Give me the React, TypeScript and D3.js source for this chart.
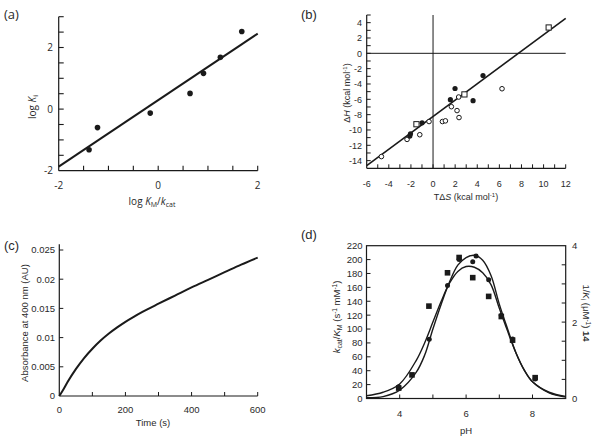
import React from 'react';
import * as d3 from 'd3';

// ---------- Panel (a) ----------
const aLogKm = [-1.39, -1.22, -0.16, 0.64, 0.91, 1.25, 1.68];
const aLogKi = [-1.32, -0.6, -0.13, 0.51, 1.16, 1.68, 2.52];
const aFitX = [-2, 2];
const aFitY = [-1.87, 2.45];
const aXLabels = [-2, 0, 2];
const aYLabels = [-2, 0, 2];

// ---------- Panel (b) ----------
const bFilledTdS = [4.52, 1.99, 1.57, 3.62, -0.99, -2.04, -2.1];
const bFilledDH = [-2.9, -4.59, -6.05, -6.18, -9.07, -10.5, -10.8];
const bOpenTdS = [6.24, 2.32, 1.66, 2.17, 2.35, 0.85, 1.12, -0.36, -1.2, -2.35, -4.67];
const bOpenDH = [-4.62, -5.7, -6.96, -7.47, -8.38, -8.9, -8.81, -8.9, -10.62, -11.23, -13.47];
const bSquareTdS = [10.46, 2.84, -1.5];
const bSquareDH = [3.37, -5.36, -9.25];
const bFitX = [-6, 12];
const bFitY = [-14.65, 4.56];
const bXLabels = [-6, -4, -2, 0, 2, 4, 6, 8, 10, 12];
const bYLabels = [-14, -12, -10, -8, -6, -4, -2, 0, 2, 4];

// ---------- Panel (c) ----------
const cTime = [0, 10, 25, 50, 75, 100, 125, 150, 175, 200, 225, 250, 300, 350, 400, 450, 500, 550, 600];
const cAbs = [0, 0.0009, 0.0024, 0.0046, 0.0065, 0.0081, 0.0095, 0.0107, 0.01175, 0.0127, 0.01355, 0.01435, 0.0158, 0.0172, 0.0186, 0.0199, 0.0212, 0.0225, 0.0237];
const cXLabels = [0, 200, 400, 600];
const cYLabels = [0, 0.005, 0.01, 0.015, 0.02, 0.025];
const cYLabelText = ['0', '0.005', '0.01', '0.015', '0.02', '0.025'];

// ---------- Panel (d) ----------
const dSquarePH = [3.97, 4.37, 4.88, 5.44, 5.79, 6.2, 6.68, 7.06, 7.4, 8.08];
const dSquareKcat = [15, 34, 133, 181, 203, 174, 147, 118, 84, 30];
const dCirclePH = [3.97, 4.89, 5.44, 5.79, 6.2, 6.3, 6.68, 7.06, 7.4, 8.08];
const dCircleKi = [0.31, 1.55, 2.96, 3.64, 3.58, 3.73, 3.11, 2.18, 1.56, 0.51];
const dCurvePH = [3, 3.5, 4, 4.5, 4.75, 5, 5.25, 5.5, 5.75, 6, 6.25, 6.5, 6.75, 7, 7.25, 7.5, 7.75, 8, 8.5, 9];
const dCurveKcat = [4, 9, 21, 55, 80, 110, 140, 166, 183, 190, 189, 181, 164, 130, 97, 66, 41, 24, 9, 3];
const dCurveKi = [0.02, 0.05, 0.22, 0.69, 1.13, 1.82, 2.47, 3.05, 3.49, 3.69, 3.75, 3.62, 3.22, 2.47, 1.82, 1.2, 0.75, 0.44, 0.15, 0.04];
const dXLabels = [4, 6, 8];
const dLeftLabels = [0, 20, 40, 60, 80, 100, 120, 140, 160, 180, 200, 220];
const dRightLabels = [0, 2, 4];

const INK = '#1a1a1a';
const TXT = '#2a2a2a';
const ARIAL = '"Liberation Sans", Arial, sans-serif';
const OPEN = '"Open Sans", "Liberation Sans", sans-serif';

function range(a: number, b: number, s: number) {
  const out: number[] = [];
  for (let v = a; v <= b + 1e-9; v += s) out.push(+v.toFixed(6));
  return out;
}

function PanelA() {
  const x = d3.scaleLinear().domain([-2, 2]).range([58.7, 257.7]);
  const y = d3.scaleLinear().domain([-2, 3]).range([170.7, 16.7]);
  const line = d3.line<number>().x((d, i) => x(aFitX[i])).y((d, i) => y(aFitY[i]));
  return (
    <g fontFamily={OPEN} fill={TXT}>
      <text x={4} y={19} fontSize={13}>(a)</text>
      <line x1={x(-2)} x2={x(2)} y1={y(-2)} y2={y(-2)} stroke={INK} strokeWidth={1.2} />
      <line x1={x(-2)} x2={x(-2)} y1={y(-2)} y2={y(3)} stroke={INK} strokeWidth={1.2} />
      {range(-1.5, 2, 0.5).map(v => (
        <line key={'ax' + v} x1={x(v)} x2={x(v)} y1={y(-2)} y2={y(-2) - 5} stroke={INK} strokeWidth={1.1} />
      ))}
      {range(-1.5, 3, 0.5).map(v => (
        <line key={'ay' + v} x1={x(-2)} x2={x(-2) + 5} y1={y(v)} y2={y(v)} stroke={INK} strokeWidth={1.1} />
      ))}
      {aXLabels.map(v => (
        <text key={'axl' + v} x={x(v)} y={189} fontSize={10} textAnchor="middle">{v}</text>
      ))}
      {aYLabels.map(v => (
        <text key={'ayl' + v} x={53} y={y(v) + 3.5} fontSize={10} textAnchor="end">{v}</text>
      ))}
      <path d={line(aFitX) || ''} stroke={INK} strokeWidth={2} fill="none" />
      {aLogKm.map((v, i) => (
        <circle key={'ap' + i} cx={x(v)} cy={y(aLogKi[i])} r={2.8} fill={INK} />
      ))}
      <text transform={`translate(36,${107}) rotate(-90)`} fontSize={10} textAnchor="middle">
        log <tspan fontStyle="italic">K</tspan><tspan fontSize={7} dy={2}>i</tspan>
      </text>
      <text x={152} y={205} fontSize={10} textAnchor="middle">
        log <tspan fontStyle="italic">K</tspan><tspan fontSize={7} dy={2}>M</tspan><tspan dy={-2}>/</tspan><tspan fontStyle="italic">k</tspan><tspan fontSize={7} dy={2}>cat</tspan>
      </text>
    </g>
  );
}

function PanelB() {
  const x = d3.scaleLinear().domain([-6, 12]).range([366.7, 565.7]);
  const y = d3.scaleLinear().domain([-15, 5]).range([168.3, 15]);
  const line = d3.line<number>().x((d, i) => x(bFitX[i])).y((d, i) => y(bFitY[i]));
  return (
    <g fontFamily={ARIAL} fill={TXT}>
      <text x={301} y={19} fontSize={13}>(b)</text>
      <line x1={x(-6)} x2={x(12)} y1={y(-15)} y2={y(-15)} stroke={INK} strokeWidth={1.2} />
      <line x1={x(-6)} x2={x(-6)} y1={y(-15)} y2={y(5)} stroke={INK} strokeWidth={1.2} />
      <line x1={x(-6)} x2={x(12)} y1={y(0)} y2={y(0)} stroke={INK} strokeWidth={1} />
      <line x1={x(0)} x2={x(0)} y1={y(-15)} y2={y(5)} stroke={INK} strokeWidth={1} />
      {range(-5, 12, 1).map(v => (
        <line key={'bx' + v} x1={x(v)} x2={x(v)} y1={y(-15)} y2={y(-15) - 4} stroke={INK} strokeWidth={1} />
      ))}
      {range(-14, 5, 1).map(v => (
        <line key={'by' + v} x1={x(-6)} x2={x(-6) + 4} y1={y(v)} y2={y(v)} stroke={INK} strokeWidth={1} />
      ))}
      {bXLabels.map(v => (
        <text key={'bxl' + v} x={x(v)} y={186.5} fontSize={9} textAnchor="middle">{v}</text>
      ))}
      {bYLabels.map(v => (
        <text key={'byl' + v} x={362} y={y(v) + 3.2} fontSize={9} textAnchor="end">{v}</text>
      ))}
      <path d={line(bFitX) || ''} stroke={INK} strokeWidth={1.6} fill="none" />
      {bOpenTdS.map((v, i) => (
        <circle key={'bo' + i} cx={x(v)} cy={y(bOpenDH[i])} r={2.3} fill="#fff" stroke={INK} strokeWidth={1} />
      ))}
      {bSquareTdS.map((v, i) => (
        <rect key={'bs' + i} x={x(v) - 2.6} y={y(bSquareDH[i]) - 2.6} width={5.2} height={5.2} fill="#fff" stroke={INK} strokeWidth={1} />
      ))}
      {bFilledTdS.map((v, i) => (
        <circle key={'bf' + i} cx={x(v)} cy={y(bFilledDH[i])} r={2.6} fill={INK} />
      ))}
      <text transform={`translate(350,${93}) rotate(-90)`} fontSize={9} textAnchor="middle">
        Δ<tspan fontStyle="italic">H</tspan> (kcal mol<tspan fontSize={6} dy={-3}>-1</tspan><tspan dy={3}>)</tspan>
      </text>
      <text x={466} y={199.5} fontSize={9} textAnchor="middle">
        TΔ<tspan fontStyle="italic">S</tspan> (kcal mol<tspan fontSize={6} dy={-3}>-1</tspan><tspan dy={3}>)</tspan>
      </text>
    </g>
  );
}

function PanelC() {
  const x = d3.scaleLinear().domain([0, 600]).range([59.3, 257.7]);
  const y = d3.scaleLinear().domain([0, 0.025]).range([396, 250]);
  const line = d3.line<number>().x(d => x(d)).y((d, i) => y(cAbs[i])).curve(d3.curveMonotoneX);
  return (
    <g fontFamily={ARIAL} fill={TXT}>
      <text x={4} y={250} fontSize={13}>(c)</text>
      <line x1={x(0)} x2={x(600)} y1={y(0)} y2={y(0)} stroke={INK} strokeWidth={1.2} />
      <line x1={x(0)} x2={x(0)} y1={y(0)} y2={y(0.026)} stroke={INK} strokeWidth={1.2} />
      {range(100, 600, 100).map(v => (
        <line key={'cx' + v} x1={x(v)} x2={x(v)} y1={y(0)} y2={y(0) - 4} stroke={INK} strokeWidth={1} />
      ))}
      {cYLabels.slice(1).map(v => (
        <line key={'cy' + v} x1={x(0)} x2={x(0) + 4} y1={y(v)} y2={y(v)} stroke={INK} strokeWidth={1} />
      ))}
      {cXLabels.map(v => (
        <text key={'cxl' + v} x={x(v)} y={413} fontSize={9.5} textAnchor="middle">{v}</text>
      ))}
      {cYLabels.map((v, i) => (
        <text key={'cyl' + v} x={55} y={y(v) + 3.4} fontSize={9.5} textAnchor="end">{cYLabelText[i]}</text>
      ))}
      <path d={line(cTime) || ''} stroke={INK} strokeWidth={2} fill="none" />
      <text transform={`translate(28,${323}) rotate(-90)`} fontSize={9.5} textAnchor="middle">Absorbance at 400 nm (AU)</text>
      <text x={153} y={426} fontSize={9.5} textAnchor="middle">Time (s)</text>
    </g>
  );
}

function PanelD() {
  const x = d3.scaleLinear().domain([3, 9]).range([366.5, 565.7]);
  const yL = d3.scaleLinear().domain([0, 220]).range([398.5, 245.7]);
  const yR = d3.scaleLinear().domain([0, 4]).range([398.5, 245.7]);
  const lineK = d3.line<number>().x(d => x(d)).y((d, i) => yL(dCurveKcat[i])).curve(d3.curveCatmullRom);
  const lineI = d3.line<number>().x(d => x(d)).y((d, i) => yR(dCurveKi[i])).curve(d3.curveCatmullRom);
  return (
    <g fontFamily={ARIAL} fill={TXT}>
      <text x={301} y={239} fontSize={13}>(d)</text>
      <rect x={x(3)} y={yL(220)} width={x(9) - x(3)} height={yL(0) - yL(220)} fill="none" stroke={INK} strokeWidth={1.2} />
      {range(4, 8, 1).map(v => (
        <line key={'dx' + v} x1={x(v)} x2={x(v)} y1={yL(0)} y2={yL(0) - 4} stroke={INK} strokeWidth={1} />
      ))}
      {range(20, 200, 20).map(v => (
        <line key={'dy' + v} x1={x(3)} x2={x(3) + 4} y1={yL(v)} y2={yL(v)} stroke={INK} strokeWidth={1} />
      ))}
      {range(0.5, 3.5, 0.5).map(v => (
        <line key={'dr' + v} x1={x(9)} x2={x(9) - 4} y1={yR(v)} y2={yR(v)} stroke={INK} strokeWidth={1} />
      ))}
      {dXLabels.map(v => (
        <text key={'dxl' + v} x={x(v)} y={417} fontSize={9.5} textAnchor="middle">{v}</text>
      ))}
      {dLeftLabels.map(v => (
        <text key={'dyl' + v} x={362.5} y={yL(v) + 3.4} fontSize={9.5} textAnchor="end">{v}</text>
      ))}
      {dRightLabels.map(v => (
        <text key={'drl' + v} x={572} y={yR(v) + 3.4} fontSize={9.5} textAnchor="start">{v}</text>
      ))}
      <path d={lineK(dCurvePH) || ''} stroke={INK} strokeWidth={1.4} fill="none" />
      <path d={lineI(dCurvePH) || ''} stroke={INK} strokeWidth={1.4} fill="none" />
      {dSquarePH.map((v, i) => (
        <rect key={'ds' + i} x={x(v) - 2.8} y={yL(dSquareKcat[i]) - 2.8} width={5.6} height={5.6} fill={INK} />
      ))}
      {dCirclePH.map((v, i) => (
        <circle key={'dc' + i} cx={x(v)} cy={yR(dCircleKi[i])} r={2.5} fill={INK} />
      ))}
      <text transform={`translate(340,${317}) rotate(-90)`} fontSize={9.5} textAnchor="middle">
        <tspan fontStyle="italic">k</tspan><tspan fontSize={7} dy={2}>cat</tspan><tspan dy={-2}>/</tspan><tspan fontStyle="italic">K</tspan><tspan fontSize={7} dy={2}>M</tspan><tspan dy={-2}> (s</tspan><tspan fontSize={6.5} dy={-3}>-1</tspan><tspan dy={3}> mM</tspan><tspan fontSize={6.5} dy={-3}>-1</tspan><tspan dy={3}>)</tspan>
      </text>
      <text transform={`translate(583,${313}) rotate(90)`} fontSize={9.5} textAnchor="middle">
        1/<tspan fontStyle="italic">K</tspan><tspan fontSize={7} dy={2}>i</tspan><tspan dy={-2}> (μM</tspan><tspan fontSize={6.5} dy={-3}>-1</tspan><tspan dy={3}>) </tspan><tspan fontWeight="bold">14</tspan>
      </text>
      <text x={466} y={434} fontSize={9.5} textAnchor="middle">pH</text>
    </g>
  );
}

export default function App() {
  return (
    <svg width={600} height={439} viewBox="0 0 600 439" style={{ position: 'absolute', left: 0, top: 0, background: '#fff' }}>
      <rect width={600} height={439} fill="#fff" />
      <PanelA />
      <PanelB />
      <PanelC />
      <PanelD />
    </svg>
  );
}
